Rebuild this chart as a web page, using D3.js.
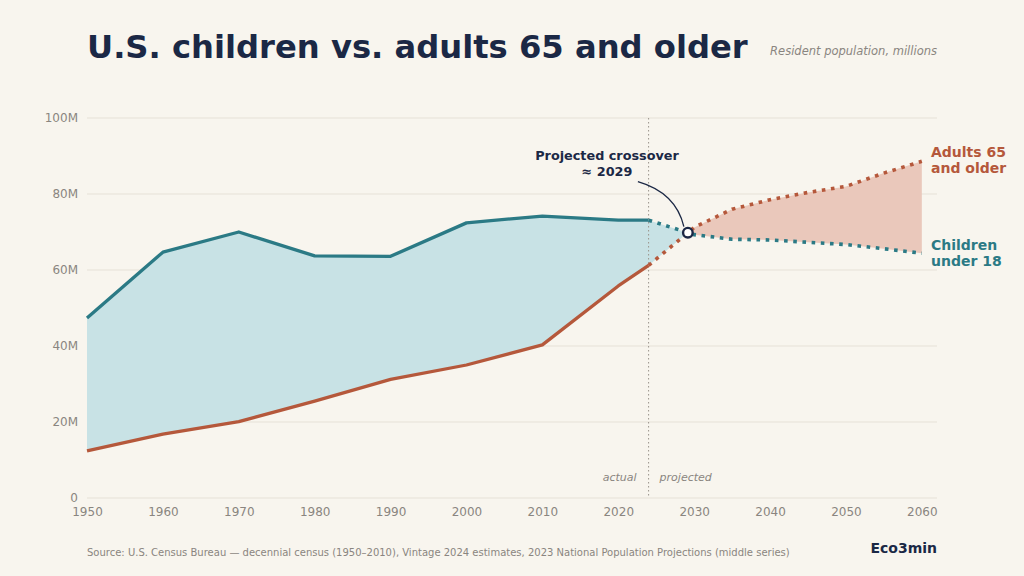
<!DOCTYPE html>
<html>
<head>
<meta charset="utf-8">
<script src="https://cdn.jsdelivr.net/npm/d3@7"></script>
<style>
  html, body { margin: 0; padding: 0; background: #f8f5ee; }
  svg { display: block; font-family: "DejaVu Sans", sans-serif; }
</style>
</head>
<body>
<script>
// --- Data (millions) ---
const actualYears = [1950, 1960, 1970, 1980, 1990, 2000, 2010, 2020, 2024];
const childrenActual = [47.4, 64.7, 70.0, 63.7, 63.6, 72.4, 74.2, 73.1, 73.1];
const adultsActual = [12.4, 16.8, 20.1, 25.5, 31.2, 35.0, 40.3, 55.8, 61.2];

const projYears = [2024, 2030, 2035, 2040, 2045, 2050, 2055, 2060];
const childrenProj = [73.1, 69.3, 68.1, 67.9, 67.3, 66.7, 65.6, 64.4];
const adultsProj = [61.2, 71.2, 76.0, 78.5, 80.4, 82.0, 85.5, 88.6];

const yTicks = [0, 20, 40, 60, 80, 100];
const xTicks = [1950, 1960, 1970, 1980, 1990, 2000, 2010, 2020, 2030, 2040, 2050, 2060];

const splitYear = 2024;

// --- Colours ---
const bg = "#f8f5ee";
const teal = "#2b7a85";
const rust = "#b5583b";
const navy = "#1b2845";
const grey = "#8a8580";

const width = 1024, height = 576;
const margin = { top: 118, right: 87, bottom: 78, left: 87 };

const svg = d3.select("body").append("svg")
  .attr("width", width)
  .attr("height", height)
  .style("background", bg);

const x = d3.scaleLinear().domain([1950, 2062]).range([margin.left, width - margin.right]);
const y = d3.scaleLinear().domain([0, 100]).range([height - margin.bottom, margin.top]);

// --- Gridlines ---
svg.append("g")
  .selectAll("line")
  .data(yTicks)
  .join("line")
  .attr("x1", x.range()[0])
  .attr("x2", x.range()[1])
  .attr("y1", d => y(d))
  .attr("y2", d => y(d))
  .attr("stroke", "#e6e1d7")
  .attr("stroke-width", 1);

// --- Axes (text only) ---
const yAxis = svg.append("g")
  .attr("transform", `translate(${margin.left - 6},0)`)
  .call(d3.axisLeft(y).tickValues(yTicks).tickSize(0).tickFormat(d => d === 0 ? "0" : d + "M"));
yAxis.select(".domain").remove();
yAxis.selectAll("text").attr("fill", grey).style("font-size", "12px").style("font-family", "DejaVu Sans");

const xAxis = svg.append("g")
  .attr("transform", `translate(0,${y(0) + 6})`)
  .call(d3.axisBottom(x).tickValues(xTicks).tickSize(0).tickFormat(d3.format("d")));
xAxis.select(".domain").remove();
xAxis.selectAll("text").attr("fill", grey).style("font-size", "12px").style("font-family", "DejaVu Sans");

// --- Combined series for the fill ---
const allYears = actualYears.concat(projYears.slice(1));
const allChildren = childrenActual.concat(childrenProj.slice(1));
const allAdults = adultsActual.concat(adultsProj.slice(1));
const rows = allYears.map((yr, i) => ({ year: yr, c: allChildren[i], a: allAdults[i] }));

// crossover: where the two projected segments meet
let cross = null;
for (let i = 1; i < rows.length; i++) {
  const p = rows[i - 1], q = rows[i];
  const d0 = p.c - p.a, d1 = q.c - q.a;
  if (d0 > 0 && d1 <= 0) {
    const t = d0 / (d0 - d1);
    cross = { year: p.year + t * (q.year - p.year), v: p.c + t * (q.c - p.c) };
    break;
  }
}

const area = d3.area()
  .x(d => x(d.year))
  .y0(d => y(d.a))
  .y1(d => y(d.c));

const defs = svg.append("defs");
defs.append("clipPath").attr("id", "clip-before")
  .append("rect")
  .attr("x", 0).attr("y", 0)
  .attr("width", x(cross.year)).attr("height", height);
defs.append("clipPath").attr("id", "clip-after")
  .append("rect")
  .attr("x", x(cross.year)).attr("y", 0)
  .attr("width", width - x(cross.year)).attr("height", height);

svg.append("path")
  .datum(rows)
  .attr("d", area)
  .attr("fill", "#c8e2e5")
  .attr("clip-path", "url(#clip-before)");

svg.append("path")
  .datum(rows)
  .attr("d", area)
  .attr("fill", "#eac8bb")
  .attr("clip-path", "url(#clip-after)");

// --- Actual / projected divider ---
svg.append("line")
  .attr("x1", x(splitYear)).attr("x2", x(splitYear))
  .attr("y1", y(100)).attr("y2", y(0))
  .attr("stroke", "#9a948c")
  .attr("stroke-width", 1)
  .attr("stroke-dasharray", "1.5,2.5");

svg.append("text")
  .attr("x", x(splitYear) - 12).attr("y", y(0) - 17)
  .attr("text-anchor", "end")
  .attr("fill", grey)
  .style("font-size", "11px").style("font-style", "italic")
  .text("actual");
svg.append("text")
  .attr("x", x(splitYear) + 11).attr("y", y(0) - 17)
  .attr("fill", grey)
  .style("font-size", "11px").style("font-style", "italic")
  .text("projected");

// --- Lines ---
const line = d3.line().x(d => x(d[0])).y(d => y(d[1]));

function drawLine(years, vals, color, dotted) {
  svg.append("path")
    .datum(years.map((yr, i) => [yr, vals[i]]))
    .attr("d", line)
    .attr("fill", "none")
    .attr("stroke", color)
    .attr("stroke-width", dotted ? 3.6 : 3.3)
    .attr("stroke-linejoin", "round")
    .attr("stroke-dasharray", dotted ? "3.6,5.6" : null);
}

drawLine(actualYears, adultsActual, rust, false);
drawLine(actualYears, childrenActual, teal, false);
drawLine(projYears, adultsProj, rust, true);
drawLine(projYears, childrenProj, teal, true);

// --- Crossover annotation ---
const cx = x(cross.year), cy = y(cross.v);
svg.append("path")
  .attr("d", `M${cx - 50},${cy - 51} Q${cx - 12},${cy - 40} ${cx - 4},${cy - 6}`)
  .attr("fill", "none")
  .attr("stroke", navy)
  .attr("stroke-width", 1.3);

svg.append("circle")
  .attr("cx", cx).attr("cy", cy).attr("r", 4.8)
  .attr("fill", "#ffffff")
  .attr("stroke", navy)
  .attr("stroke-width", 2.4);

const ann = svg.append("text")
  .attr("text-anchor", "middle")
  .attr("fill", navy)
  .style("font-size", "12.8px").style("font-weight", "bold");
ann.append("tspan").attr("x", 607).attr("y", 160).text("Projected crossover");
ann.append("tspan").attr("x", 607).attr("y", 176).text("≈ " + Math.floor(cross.year));

// --- End labels ---
function endLabel(lines, color, top) {
  const t = svg.append("text")
    .attr("fill", color)
    .style("font-size", "14px").style("font-weight", "bold");
  lines.forEach((s, i) => t.append("tspan").attr("x", 931).attr("y", top + i * 15.5).text(s));
}
endLabel(["Adults 65", "and older"], rust, 157);
endLabel(["Children", "under 18"], teal, 250);

// --- Titles ---
svg.append("text")
  .attr("x", 87).attr("y", 58)
  .attr("fill", navy)
  .style("font-size", "32.2px").style("font-weight", "bold")
  .text("U.S. children vs. adults 65 and older");

svg.append("text")
  .attr("x", 937).attr("y", 55)
  .attr("text-anchor", "end")
  .attr("fill", grey)
  .style("font-size", "11.5px").style("font-style", "italic")
  .text("Resident population, millions");

svg.append("text")
  .attr("x", 87).attr("y", 556)
  .attr("fill", grey)
  .style("font-size", "10px")
  .text("Source: U.S. Census Bureau — decennial census (1950–2010), Vintage 2024 estimates, 2023 National Population Projections (middle series)");

svg.append("text")
  .attr("x", 937).attr("y", 553)
  .attr("text-anchor", "end")
  .attr("fill", navy)
  .style("font-size", "14px").style("font-weight", "bold")
  .text("Eco3min");
</script>
</body>
</html>
